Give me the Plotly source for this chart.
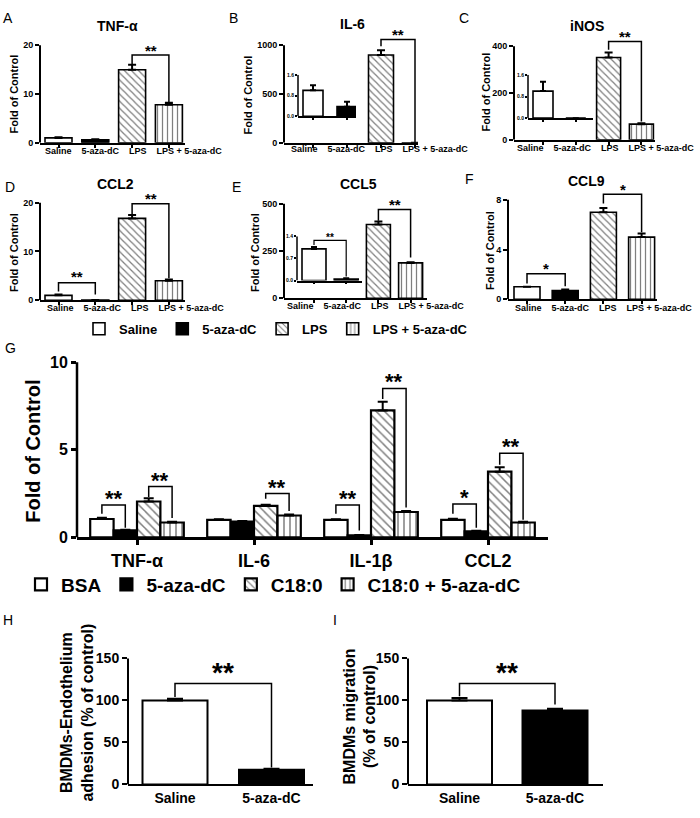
import plotly.graph_objects as go

W, H = 700, 818
FONT = "Liberation Sans, Arial, sans-serif"

# ---------------- data ----------------
treat = ["Saline", "5-aza-dC", "LPS", "LPS + 5-aza-dC"]

tnf = [1.0, 0.6, 15.0, 7.8]
tnf_err = [0.15, 0.1, 1.0, 0.4]
il6 = [1.0, 0.37, 900.0, 0.5]
il6_err = [0.2, 0.19, 50.0, 0.0]
inos = [1.0, 0.0, 352.0, 67.0]
inos_err = [0.35, 0.0, 22.0, 4.0]
ccl2 = [1.0, 0.02, 16.8, 4.0]
ccl2_err = [0.15, 0.0, 0.7, 0.25]
ccl5 = [1.0, 0.05, 390.0, 187.0]
ccl5_err = [0.06, 0.02, 16.0, 4.0]
ccl9 = [1.0, 0.7, 7.0, 5.0]
ccl9_err = [0.0, 0.08, 0.35, 0.3]

groups_g = ["TNF-α", "IL-6", "IL-1β", "CCL2"]
series_g = ["BSA", "5-aza-dC", "C18:0", "C18:0 + 5-aza-dC"]
g_bsa = [1.05, 1.0, 1.0, 1.0]
g_bsa_err = [0.07, 0.04, 0.03, 0.07]
g_aza = [0.4, 0.9, 0.12, 0.35]
g_aza_err = [0.04, 0.04, 0.02, 0.03]
g_c18 = [2.05, 1.8, 7.25, 3.75]
g_c18_err = [0.18, 0.06, 0.5, 0.25]
g_c18aza = [0.85, 1.25, 1.45, 0.85]
g_c18aza_err = [0.04, 0.05, 0.06, 0.04]

hi_cats = ["Saline", "5-aza-dC"]
adhesion = [100.0, 17.5]
adhesion_err = [2.0, 1.0]
migration = [100.0, 88.0]
migration_err = [3.0, 2.0]

# ---------------- styling ----------------
STYLES = [
    dict(color="white", shape=""),
    dict(color="black", shape=""),
    dict(color="white", shape="\\"),
    dict(color="white", shape="|"),
]


def pxx(p):
    return p / W


def pxy(p):
    return 1 - p / H


fig = go.Figure()
layout = {}
shapes = []
annots = []
axis_count = [0]


def new_axes(L, R, c0, s, Z, T, top, D, yticks, yticktext, xticks, tickfont,
             lw=2, ticklen=4, xticklen=3, xtickfont=None, xticktext=None):
    axis_count[0] += 1
    n = axis_count[0]
    sx = "" if n == 1 else str(n)
    xid, yid = "x" + sx, "y" + sx
    ymax = top * (Z - D) / (Z - T)
    layout["xaxis" + sx] = dict(
        domain=[pxx(L), pxx(R)], range=[(L - c0) / s, (R - c0) / s],
        anchor=yid, showline=True, linecolor="black", linewidth=lw,
        ticks="outside" if xticklen else "", ticklen=xticklen, tickwidth=lw,
        tickcolor="black", tickvals=xticks,
        ticktext=xticktext, showticklabels=xticktext is not None,
        tickfont=xtickfont, showgrid=False, zeroline=False, fixedrange=True)
    layout["yaxis" + sx] = dict(
        domain=[pxy(Z), pxy(D)], range=[0, ymax], anchor=xid,
        showline=False, ticks="outside", ticklen=ticklen, tickwidth=lw,
        tickcolor="black", tickvals=yticks, ticktext=yticktext,
        tickfont=tickfont, showgrid=False, zeroline=False, fixedrange=True)
    shapes.append(dict(type="line", xref=xid + " domain", x0=0, x1=0,
                       yref=yid, y0=0, y1=top, layer="above",
                       line=dict(color="black", width=lw)))
    return xid, yid


def add_bar(xid, yid, x, y, e, width, style, lw=2, psize=5, sol=0.25,
            capw=4, name=None, legend=None, offset=None):
    pat = dict(shape=style["shape"], fgcolor="black", bgcolor="white",
               size=psize, solidity=sol) if style["shape"] else dict(shape="")
    kw = {}
    if offset is not None:
        kw["offset"] = offset
    fig.add_trace(go.Bar(
        x=x, y=y, width=width, xaxis=xid, yaxis=yid,
        marker=dict(color=style["color"], line=dict(color="black", width=lw),
                    pattern=pat),
        error_y=dict(type="data", array=e, arrayminus=[0] * len(e),
                     symmetric=False, color="black", thickness=2, width=capw,
                     visible=True),
        name=name, showlegend=legend is not None,
        legend=legend if legend else "legend", hoverinfo="skip", **kw))


def add_bracket(xid, yid, xa, xb, ya, yt, yb, label, size, yshift, lw=1.5):
    fig.add_trace(go.Scatter(
        x=[xa, xa, xb, xb], y=[ya, yt, yt, yb], mode="lines",
        xaxis=xid, yaxis=yid, line=dict(color="black", width=lw),
        showlegend=False, hoverinfo="skip"))
    annots.append(dict(xref=xid, yref=yid, x=(xa + xb) / 2, y=yt,
                       text=label, showarrow=False, yanchor="middle",
                       yshift=yshift, font=dict(size=size, color="black",
                                                family=FONT, weight="bold")))


def text(x, y, t, size, bold=True, angle=0, family=FONT, color="black"):
    annots.append(dict(xref="paper", yref="paper", x=pxx(x), y=pxy(y),
                       text=t, showarrow=False, xanchor="center",
                       yanchor="middle", textangle=angle,
                       font=dict(size=size, color=color, family=family,
                                 weight="bold" if bold else "normal")))


SMALL_TICK = dict(size=9, family=FONT, color="black", weight="bold")
INSET_TICK = dict(size=5, family=FONT, color="black", weight="bold")

panels = [
    dict(letter="A", lpos=(8, 14), title="TNF-α", tpos=(117, 22),
         vals=tnf, err=tnf_err, L=40, R=185, c0=58.5, s=36.8, Z=141, T=42,
         top=20, D=25, ticks=[0, 10, 20], barpx=27, ytpos=(14, 92),
         xlpos=(133.5, 149), inset=None,
         brackets=[(2, 3, 16.0, 18.0, 8.3, "**", 5)]),
    dict(letter="B", lpos=(233, 14), title="IL-6", tpos=(352, 20),
         vals=il6, err=il6_err, L=284, R=418, c0=313, s=34, Z=141, T=42,
         top=1000, D=22, ticks=[0, 500, 1000], barpx=25, ytpos=(248, 92),
         xlpos=(380, 147),
         inset=dict(L=298, R=356, Z=114, T=72, top=1.6,
                    ticks=[0, 0.8, 1.6], text=["0.0", "0.8", "1.6"],
                    barpx=20, brackets=[]),
         brackets=[(2, 3, 990, 1060, 0, "**", 5)]),
    dict(letter="C", lpos=(464, 14), title="iNOS", tpos=(587, 22),
         vals=inos, err=inos_err, L=514, R=655, c0=543, s=32.8, Z=138, T=43,
         top=400, D=22, ticks=[0, 200, 400], barpx=24, ytpos=(486, 90),
         xlpos=(605.5, 146),
         inset=dict(L=528, R=593, Z=116, T=72, top=1.6,
                    ticks=[0, 0.8, 1.6], text=["0.0", "0.8", "1.6"],
                    barpx=20, brackets=[]),
         brackets=[(2, 3, 385, 421, 78, "**", 5)]),
    dict(letter="D", lpos=(10, 186), title="CCL2", tpos=(115, 183),
         vals=ccl2, err=ccl2_err, L=40, R=185, c0=58.5, s=36.8, Z=301,
         T=202, top=20, D=185, ticks=[0, 10, 20], barpx=27, ytpos=(14, 253),
         xlpos=(135, 309), inset=None,
         brackets=[(0, 1, 1.8, 3.6, 1.15, "**", 6),
                   (2, 3, 17.6, 19.8, 4.5, "**", 5)]),
    dict(letter="E", lpos=(236, 186), title="CCL5", tpos=(358, 183),
         vals=ccl5, err=ccl5_err, L=284, R=427, c0=314, s=32.2, Z=299,
         T=203, top=500, D=185, ticks=[0, 250, 500], barpx=24,
         ytpos=(255, 253), xlpos=(375, 307),
         inset=dict(L=297, R=362, Z=281, T=236, top=1.4,
                    ticks=[0, 0.7, 1.4], text=["0.0", "0.7", "1.4"],
                    barpx=24,
                    brackets=[(0, 1, 1.12, 1.27, 0.13, "**", 2.5)]),
         brackets=[(2, 3, 410, 470, 215, "**", 5)]),
    dict(letter="F", lpos=(470, 178), title="CCL9", tpos=(586, 180),
         vals=ccl9, err=ccl9_err, L=508, R=657, c0=527, s=38.2, Z=300,
         T=199, top=8, D=185, ticks=[0, 4, 8], barpx=26, ytpos=(490, 250),
         xlpos=(603, 309), inset=None,
         brackets=[(0, 1, 1.27, 2.06, 1.05, "*", 5),
                   (2, 3, 7.7, 8.45, 5.4, "*", 5)]),
]

xlabel_text = "&nbsp;&nbsp;&nbsp;&nbsp;".join(treat)

for pi, p in enumerate(panels):
    idx = list(range(len(treat)))
    inset = p["inset"]
    main_idx = idx if inset is None else idx[2:]
    xid, yid = new_axes(p["L"], p["R"], p["c0"], p["s"], p["Z"], p["T"],
                        p["top"], p["D"], p["ticks"],
                        [str(t) for t in p["ticks"]], idx, SMALL_TICK)
    w = p["barpx"] / p["s"]
    for i in main_idx:
        add_bar(xid, yid, [i], [p["vals"][i]], [p["err"][i]], [w], STYLES[i],
                lw=1.6, psize=5, capw=4,
                name=treat[i], legend="legend" if pi == 0 else None)
    for (a, b, ya, yt, yb, lab, ysh) in p["brackets"]:
        add_bracket(xid, yid, a, b, ya, yt, yb, lab, 15, ysh)
    if inset is not None:
        ix, iy = new_axes(inset["L"], inset["R"], p["c0"], p["s"],
                          inset["Z"], inset["T"], inset["top"], inset["T"],
                          inset["ticks"], inset["text"], [0, 1], INSET_TICK,
                          lw=1.5, ticklen=2, xticklen=2)
        wi = inset["barpx"] / p["s"]
        for i in idx[:2]:
            add_bar(ix, iy, [i], [p["vals"][i]], [p["err"][i]], [wi],
                    STYLES[i], lw=1.6, capw=3)
        for (a, b, ya, yt, yb, lab, ysh) in inset["brackets"]:
            add_bracket(ix, iy, a, b, ya, yt, yb, lab, 10, ysh, lw=1.2)
    text(*p["lpos"], p["letter"], 14, bold=False)
    text(*p["tpos"], p["title"], 14)
    text(*p["ytpos"], "Fold of Control", 11, angle=-90)
    text(*p["xlpos"], xlabel_text, 9)

# ---------------- panel G ----------------
g_series = [(g_bsa, g_bsa_err), (g_aza, g_aza_err), (g_c18, g_c18_err),
            (g_c18aza, g_c18aza_err)]
gx, gy = new_axes(77, 548, 137, 117, 542, 364, 10, 360, [0, 5, 10],
                  ["0", "5", "10"], list(range(len(groups_g))),
                  dict(size=16, family=FONT, color="black", weight="bold"),
                  lw=2.5, ticklen=5, xticklen=5,
                  xtickfont=dict(size=18, family=FONT, color="black",
                                 weight="bold"),
                  xticktext=groups_g)
gidx = list(range(len(groups_g)))
for k, (vals, errs) in enumerate(g_series):
    add_bar(gx, gy, gidx, vals, errs, [0.2] * 4, STYLES[k], lw=2.2,
            psize=6, sol=0.25, capw=5, name=series_g[k], legend="legend2",
            offset=-0.4 + 0.2 * k)

g_brackets = [
    (0, 0, 1, 1.35, 1.85, 0.55, "**"),
    (0, 2, 3, 2.3, 2.9, 1.1, "**"),
    (1, 2, 3, 2.2, 2.5, 1.5, "**"),
    (2, 0, 1, 1.35, 1.85, 0.4, "**"),
    (2, 2, 3, 7.9, 8.5, 1.7, "**"),
    (3, 0, 1, 1.35, 1.9, 0.55, "*"),
    (3, 2, 3, 4.15, 4.8, 1.0, "**"),
]
for (g, a, b, ya, yt, yb, lab) in g_brackets:
    add_bracket(gx, gy, g - 0.3 + 0.2 * a, g - 0.3 + 0.2 * b, ya, yt, yb,
                lab, 22, 6.5, lw=1.5)
text(10, 350, "G", 14, bold=False)
text(33, 455, "Fold of Control", 20, angle=-90)

# ---------------- panels H, I ----------------
hfont = dict(size=14, family=FONT, color="black", weight="bold")
for (L, R, c0, s, vals, errs, brk, letter, lpos, ytitle, ytpos) in [
    (128, 313, 175, 96.5, adhesion, adhesion_err, (104, 120, 20), "H",
     (8, 626), "BMDMs-Endothelium<br>adhesion (% of control)", (77, 720)),
    (408, 603, 459.5, 95.5, migration, migration_err, (105, 120, 95), "I",
     (335, 626), "BMDMs migration<br>(% of control)", (360, 724)),
]:
    hx, hy = new_axes(L, R, c0, s, 793, 665, 150, 655, [0, 50, 100, 150],
                      ["0", "50", "100", "150"], [0, 1], hfont, lw=2,
                      ticklen=5, xticklen=0, xtickfont=hfont,
                      xticktext=hi_cats)
    for i in range(len(hi_cats)):
        add_bar(hx, hy, [i], [vals[i]], [errs[i]], [65 / s], STYLES[i],
                lw=2, capw=8)
    add_bracket(hx, hy, 0, 1, brk[0], brk[1], brk[2], "**", 28, 11, lw=1.5)
    text(*lpos, letter, 14, bold=False)
    text(*ytpos, ytitle, 16, angle=-90)

layout.update(
    width=W, height=H, margin=dict(l=0, r=0, t=0, b=0),
    paper_bgcolor="white", plot_bgcolor="rgba(0,0,0,0)",
    barmode="overlay", showlegend=True,
    font=dict(family=FONT, color="black"),
    legend=dict(orientation="h", x=pxx(79), y=pxy(330), xanchor="left",
                yanchor="middle", bgcolor="rgba(0,0,0,0)",
                font=dict(size=13, family=FONT, weight="bold",
                          color="black"), traceorder="normal"),
    legend2=dict(orientation="h", x=pxx(21), y=pxy(590), xanchor="left",
                 yanchor="middle", bgcolor="rgba(0,0,0,0)",
                 font=dict(size=19, family=FONT, weight="bold",
                           color="black"), traceorder="normal"),
    shapes=shapes, annotations=annots,
)
fig.update_layout(**layout)
fig.write_html("out.html", config={"displayModeBar": False},
               post_script="document.body.style.margin='0px';")
